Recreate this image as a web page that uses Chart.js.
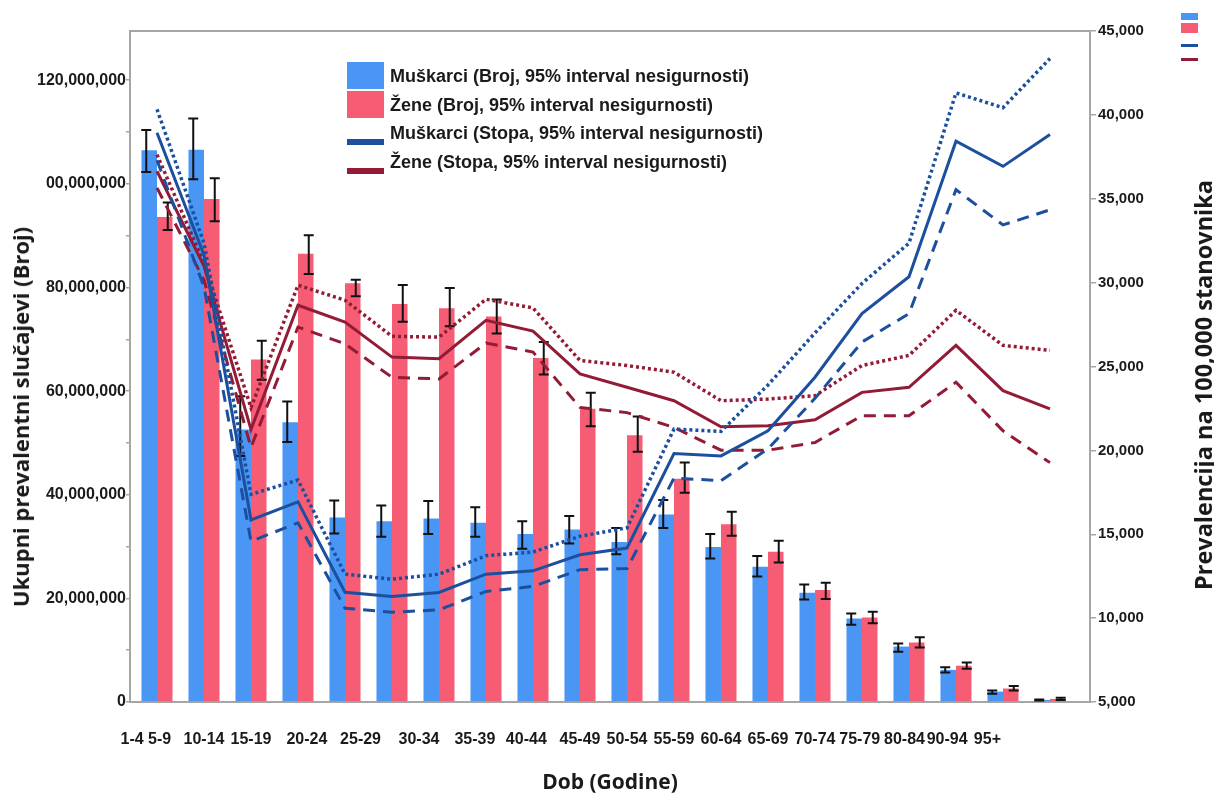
<!DOCTYPE html>
<html>
<head>
<meta charset="utf-8">
<title>Prevalencija po dobi</title>
<script src="https://cdn.jsdelivr.net/npm/chart.js@4.4.1/dist/chart.umd.min.js"></script>
<style>
  body { margin: 0; background: #fff; }
  #wrap { position: relative; width: 1214px; height: 796px; }
  #legend {
    position: absolute; left: 335px; top: 55px; width: 427px; height: 132px;
    background: #fff; color: #1a1a1a;
    font: bold 18px "Liberation Sans", Arial, sans-serif;
  }
  #legend .item { position: absolute; left: 12px; height: 29px; white-space: nowrap; }
  #legend .sw { position: absolute; left: 0; width: 37px; }
  #legend .txt { position: absolute; left: 43px; top: 0; line-height: 29px; }
  .vtitle {
    position: absolute;
    transform: translate(-50%, -50%) rotate(-90deg);
    white-space: nowrap; color: #1a1a1a;
    font-family: "Open Sans", sans-serif; font-weight: bold;
  }
  #leftTitle { left: 20px; top: 417px; font-size: 22px; }
  #rightTitle { left: 1203px; top: 385px; font-size: 23.5px; }
  .mini { position: absolute; left: 1181px; width: 17px; }
</style>
</head>
<body>
<div id="wrap">
  <canvas id="chart" width="1214" height="796"></canvas>
  <div id="legend"></div>
  <div id="leftTitle" class="vtitle">Ukupni prevalentni slučajevi (Broj)</div>
  <div id="rightTitle" class="vtitle">Prevalencija na 100,000 stanovnika</div>
  <div class="mini" style="top:13px;height:7px;background:#4a96f5"></div>
  <div class="mini" style="top:23px;height:10px;background:#f75c75"></div>
  <div class="mini" style="top:44px;height:3px;background:#1c4f9e"></div>
  <div class="mini" style="top:58px;height:3px;background:#931b36"></div>
</div>
<script>
/* categories and labels */
const ageGroups = ["1-4", "5-9", "10-14", "15-19", "20-24", "25-29", "30-34", "35-39", "40-44", "45-49",
  "50-54", "55-59", "60-64", "65-69", "70-74", "75-79", "80-84", "85-89", "90-94", "95+"]
// the labels as printed under the bars in the picture (nbsp only nudges them sideways)
const NB = "\u00a0"
const xTickLabels = ["1-4 5-9" + NB.repeat(5), "10-14", "15-19", NB.repeat(4) + "20-24", NB.repeat(7) + "25-29", "",
  "30-34" + NB.repeat(9), "35-39" + NB.repeat(5), "40-44" + NB.repeat(3), "45-49",
  "50-54", "55-59", "60-64", "65-69", "70-74", "75-79" + NB, "80-84" + NB.repeat(2), "90-94" + NB.repeat(4), "95+" + NB.repeat(7), ""]
const yTickLabels = ["0", "20,000,000", "40,000,000", "60,000,000", "80,000,000", "00,000,000", "120,000,000"]
const y2TickLabels = ["5,000", "10,000", "15,000", "20,000", "25,000", "30,000", "35,000", "40,000", "45,000"]

/* counts, millions */
const menCount   = [106.5, 106.6, 52.6, 54.0, 35.6, 34.9, 35.4, 34.6, 32.4, 33.3, 30.9, 36.2, 29.9, 26.1, 21.1, 16.1, 10.7, 6.2, 2.0, 0.4]
const menHigh    = [110.4, 112.6, 59.0, 58.0, 38.9, 37.9, 38.8, 37.6, 34.9, 35.9, 33.6, 39.0, 32.4, 28.2, 22.7, 17.1, 11.3, 6.7, 2.2, 0.5]
const menLow     = [102.3, 100.9, 47.5, 50.2, 32.5, 31.9, 32.4, 31.9, 29.6, 30.6, 28.5, 33.6, 27.7, 24.2, 19.8, 14.9, 9.7, 5.7, 1.6, 0.3]
const womenCount = [93.6, 97.1, 66.1, 86.5, 80.8, 76.8, 76.0, 74.4, 66.4, 56.6, 51.5, 43.1, 34.3, 29.0, 21.6, 16.3, 11.5, 7.0, 2.6, 0.6]
const womenHigh  = [96.4, 101.1, 69.7, 90.1, 81.5, 80.5, 79.9, 77.7, 69.5, 59.7, 55.1, 46.2, 36.7, 31.1, 23.0, 17.4, 12.5, 7.6, 3.1, 0.8]
const womenLow   = [91.1, 92.8, 62.2, 82.6, 78.3, 73.4, 72.5, 71.1, 63.2, 53.2, 48.3, 40.4, 32.1, 26.9, 19.9, 15.2, 10.5, 6.4, 2.2, 0.4]

/* rates per 100,000 */
const menRate      = [38930, 31650, 15860, 16935, 11545, 11290, 11530, 12620, 12820, 13780, 14180, 19810, 19670, 21170, 24360, 28150, 30350, 38430, 36930, 38830]
const menRateHigh  = [40330, 32350, 17380, 18230, 12620, 12320, 12620, 13720, 13940, 14880, 15380, 21270, 21130, 23900, 27000, 29950, 32350, 41310, 40430, 43360]
const menRateLow   = [37300, 29750, 14580, 15680, 10590, 10350, 10490, 11590, 11890, 12890, 12950, 18340, 18200, 20090, 23100, 26460, 28150, 35540, 33440, 34340]
const womenRate     = [36640, 30990, 21250, 28650, 27650, 25560, 25460, 27750, 27110, 24560, 23760, 22960, 21410, 21470, 21830, 23460, 23760, 26260, 23560, 22470]
const womenRateHigh = [37630, 31170, 22550, 29850, 28950, 26800, 26750, 29010, 28490, 25360, 25060, 24660, 22960, 23060, 23260, 25060, 25660, 28350, 26260, 25960]
const womenRateLow  = [35650, 30150, 20180, 27350, 26350, 24360, 24260, 26400, 25860, 22560, 22250, 21370, 20010, 20010, 20470, 22070, 22070, 24060, 21170, 19270]

const BLUE = "#4a96f5", PINK = "#f75c75", NAVY = "#1c4f9e", WINE = "#931b36", AXIS = "#a6a6a6", INK = "#1a1a1a"

const errors = {
    0: { high: menHigh, low: menLow, shift: -3 },
    1: { high: womenHigh, low: womenLow, shift: 3 }
}

/* error bars, drawn right after each bar dataset */
const errorBars = {
    id: "errorBars",
    afterDatasetDraw(chart, args) {
        const err = errors[args.index]
        if (!err) return
        const y = chart.scales.y
        const ctx = chart.ctx
        ctx.save()
        ctx.strokeStyle = "#111"
        ctx.lineWidth = 2
        args.meta.data.forEach((bar, i) => {
            const x = bar.x + err.shift
            const top = y.getPixelForValue(err.high[i])
            const bot = y.getPixelForValue(err.low[i])
            ctx.beginPath()
            ctx.moveTo(x, top); ctx.lineTo(x, bot)
            ctx.moveTo(x - 5, top); ctx.lineTo(x + 5, top)
            ctx.moveTo(x - 5, bot); ctx.lineTo(x + 5, bot)
            ctx.stroke()
        })
        ctx.restore()
    }
}

/* frame line on top of the plot */
const topFrame = {
    id: "topFrame",
    afterDraw(chart) {
        const { ctx, chartArea: a } = chart
        ctx.save()
        ctx.strokeStyle = AXIS
        ctx.lineWidth = 2
        ctx.beginPath()
        ctx.moveTo(a.left - 1, a.top)
        ctx.lineTo(a.right + 1, a.top)
        ctx.stroke()
        ctx.restore()
    }
}

const lineSet = (label, data, color, dash, width) => ({
    type: "line", label, data, yAxisID: "y2", order: 0,
    borderColor: color, borderWidth: width, borderDash: dash,
    pointRadius: 0, tension: 0, fill: false
})

const tickFont = { family: '"Liberation Sans", Arial, sans-serif', size: 16, weight: "bold" }
const titleFont = { family: '"Open Sans", sans-serif', size: 21, weight: "bold" }

const data = {
    labels: ageGroups,
    datasets: [
        { type: "bar", label: "Muškarci (Broj, 95% interval nesigurnosti)", data: menCount, yAxisID: "y", order: 1,
          backgroundColor: BLUE, categoryPercentage: 0.66, barPercentage: 1 },
        { type: "bar", label: "Žene (Broj, 95% interval nesigurnosti)", data: womenCount, yAxisID: "y", order: 1,
          backgroundColor: PINK, categoryPercentage: 0.66, barPercentage: 1 },
        lineSet("Muškarci (Stopa, 95% interval nesigurnosti)", menRate, NAVY, [], 3),
        lineSet("Muškarci gornja granica", menRateHigh, NAVY, [3, 3], 3.5),
        lineSet("Muškarci donja granica", menRateLow, NAVY, [12, 8], 3),
        lineSet("Žene (Stopa, 95% interval nesigurnosti)", womenRate, WINE, [], 3),
        lineSet("Žene gornja granica", womenRateHigh, WINE, [3, 3], 3.5),
        lineSet("Žene donja granica", womenRateLow, WINE, [12, 8], 3)
    ]
}

const config = {
    type: "bar",
    data: data,
    plugins: [errorBars, topFrame],
    options: {
        responsive: false,
        animation: false,
        layout: { padding: { top: 31, left: 0, right: 0, bottom: 0 } },
        plugins: { legend: { display: false }, tooltip: { enabled: false } },
        scales: {
            x: {
                offset: true,
                grid: { drawOnChartArea: false, drawTicks: false },
                border: { color: AXIS, width: 2 },
                ticks: { autoSkip: false, maxRotation: 0, padding: 28, color: INK, font: tickFont,
                         callback: (v, i) => xTickLabels[i] },
                title: { display: true, text: "Dob (Godine)", color: INK, font: titleFont, padding: { top: 0, bottom: 0 } },
                afterFit: (axis) => { axis.height = 94 },
                // groups in the picture sit a little tighter than the full width
                afterBuildTicks: (axis) => { axis._startValue = -0.5745; axis._valueRange = 20.426 }
            },
            y: {
                position: "left", min: 0, max: 129.5,
                grid: { drawOnChartArea: false, tickLength: 4, color: AXIS, lineWidth: 1.5 },
                border: { color: AXIS, width: 2 },
                ticks: { stepSize: 10, includeBounds: false, padding: 0, color: INK, font: tickFont,
                         callback: (v) => Math.round(v) % 20 === 0 ? yTickLabels[Math.round(v) / 20] : "" },
                afterFit: (axis) => { axis.width = 130 }
            },
            y2: {
                position: "right", min: 5000, max: 45000,
                grid: { drawOnChartArea: false, tickLength: 6, color: AXIS, lineWidth: 1.5 },
                border: { color: AXIS, width: 2 },
                ticks: { stepSize: 5000, padding: 2, color: INK, font: { ...tickFont, size: 15 },
                         callback: (v) => y2TickLabels[Math.round((v - 5000) / 5000)] },
                afterFit: (axis) => { axis.width = 124 }
            }
        }
    }
}

const chart = new Chart(document.querySelector("#chart"), config)

/* legend box inside the plot */
const legendBox = document.querySelector("#legend")
const legendRows = [
    { ds: 0, top: 7, kind: "box" },
    { ds: 1, top: 36, kind: "box" },
    { ds: 2, top: 64, kind: "line" },
    { ds: 5, top: 93, kind: "line" }
]
for (const row of legendRows) {
    const ds = chart.data.datasets[row.ds]
    const color = row.kind === "box" ? ds.backgroundColor : ds.borderColor
    const sw = row.kind === "box"
        ? `<div class="sw" style="top:0;height:27px;background:${color}"></div>`
        : `<div class="sw" style="top:20px;height:6px;background:${color}"></div>`
    legendBox.innerHTML += `<div class="item" style="top:${row.top}px">${sw}<span class="txt">${ds.label}</span></div>`
}
</script>
</body>
</html>
